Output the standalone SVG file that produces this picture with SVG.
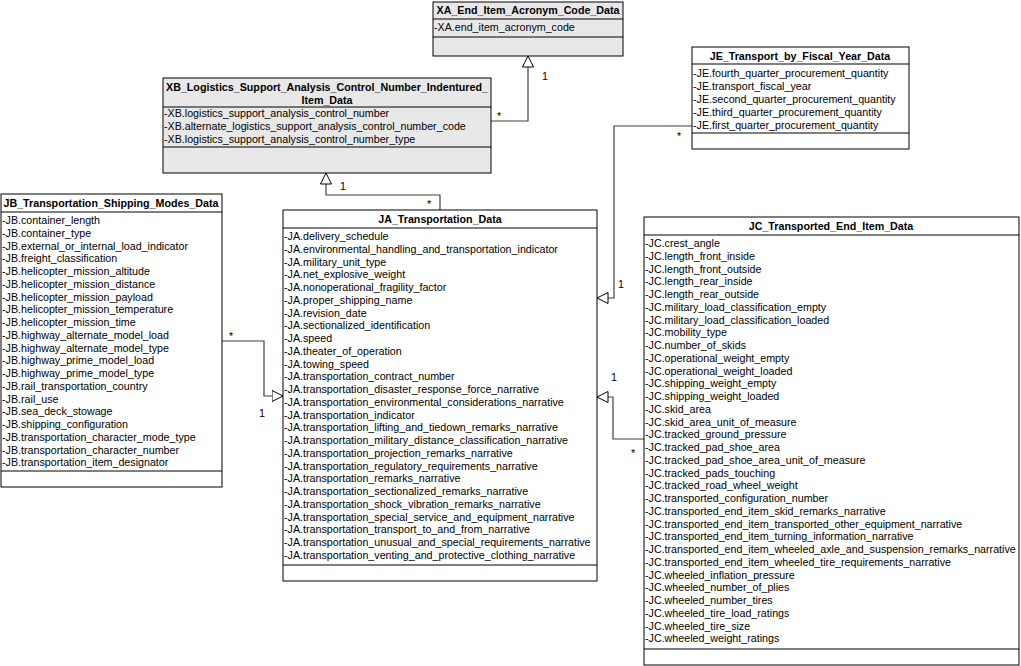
<svg xmlns="http://www.w3.org/2000/svg" width="1021" height="666" viewBox="0 0 1021 666">
<style>
.box{fill:#fff;stroke:#000;stroke-width:1}
.grey{fill:#e8e8e8}
.sep{stroke:#000;stroke-width:1}
.t{font-family:"Liberation Sans",Arial,sans-serif;font-size:10.7px;fill:#000}
.h{font-weight:bold;text-anchor:middle}
.c{fill:none;stroke:#404040;stroke-width:1.2;marker-end:url(#tri)}
.lbl{font-family:"Liberation Sans",Arial,sans-serif;font-size:10.7px;fill:#000}
</style>
<defs>
<marker id="tri" viewBox="0 0 12 12" refX="11.5" refY="6" markerWidth="12" markerHeight="12" markerUnits="userSpaceOnUse" orient="auto">
<path d="M0.5,0.5 L11.5,6 L0.5,11.5 Z" fill="#fff" stroke="#000" stroke-width="1"/>
</marker>
</defs>
<rect width="1021" height="666" fill="#fff"/>

<g id="connectors">
<path class="c" d="M491,121 H528 V56"/>
<path class="c" d="M440,210 V195 H326 V173"/>
<path class="c" d="M222,341 H264 V396 H283"/>
<path class="c" d="M692,126 H614 V298 H597"/>
<path class="c" d="M644,439 H613 V397 H597"/>
<text class="lbl" x="497" y="120">*</text>
<text class="lbl" x="542" y="80">1</text>
<text class="lbl" x="340" y="190">1</text>
<text class="lbl" x="427" y="208">*</text>
<text class="lbl" x="229" y="340">*</text>
<text class="lbl" x="259" y="417">1</text>
<text class="lbl" x="677" y="140">*</text>
<text class="lbl" x="618" y="288">1</text>
<text class="lbl" x="611" y="381">1</text>
<text class="lbl" x="631" y="457">*</text>
</g>

<g id="XA">
<rect class="box grey" x="433" y="2" width="190" height="54"/>
<line class="sep" x1="433" y1="19" x2="623" y2="19"/>
<line class="sep" x1="433" y1="37" x2="623" y2="37"/>
<text class="t h" x="528" y="14">XA_End_Item_Acronym_Code_Data</text>
<text class="t" x="434" y="31">-XA.end_item_acronym_code</text>
</g>

<g id="XB">
<rect class="box grey" x="163" y="78" width="328" height="95"/>
<line class="sep" x1="163" y1="107" x2="491" y2="107"/>
<line class="sep" x1="163" y1="147" x2="491" y2="147"/>
<text class="t h" x="327" y="91">XB_Logistics_Support_Analysis_Control_Number_Indentured_</text>
<text class="t h" x="327" y="104">Item_Data</text>
<text class="t" x="164" y="117">-XB.logistics_support_analysis_control_number</text>
<text class="t" x="164" y="130">-XB.alternate_logistics_support_analysis_control_number_code</text>
<text class="t" x="164" y="143">-XB.logistics_support_analysis_control_number_type</text>
</g>

<g id="JE">
<rect class="box" x="692" y="47" width="217" height="102"/>
<line class="sep" x1="692" y1="64" x2="909" y2="64"/>
<line class="sep" x1="692" y1="133" x2="909" y2="133"/>
<text class="t h" x="800" y="60">JE_Transport_by_Fiscal_Year_Data</text>
<text class="t" x="693" y="77">-JE.fourth_quarter_procurement_quantity</text>
<text class="t" x="693" y="90">-JE.transport_fiscal_year</text>
<text class="t" x="693" y="103">-JE.second_quarter_procurement_quantity</text>
<text class="t" x="693" y="116">-JE.third_quarter_procurement_quantity</text>
<text class="t" x="693" y="129">-JE.first_quarter_procurement_quantity</text>
</g>

<g id="JB">
<rect class="box" x="1" y="194" width="221" height="293"/>
<line class="sep" x1="1" y1="212" x2="222" y2="212"/>
<line class="sep" x1="1" y1="471" x2="222" y2="471"/>
<text class="t h" x="111" y="207">JB_Transportation_Shipping_Modes_Data</text>
<g class="t">
<text x="2" y="224">-JB.container_length</text>
<text x="2" y="236.75">-JB.container_type</text>
<text x="2" y="249.5">-JB.external_or_internal_load_indicator</text>
<text x="2" y="262.25">-JB.freight_classification</text>
<text x="2" y="275">-JB.helicopter_mission_altitude</text>
<text x="2" y="287.75">-JB.helicopter_mission_distance</text>
<text x="2" y="300.5">-JB.helicopter_mission_payload</text>
<text x="2" y="313.25">-JB.helicopter_mission_temperature</text>
<text x="2" y="326">-JB.helicopter_mission_time</text>
<text x="2" y="338.75">-JB.highway_alternate_model_load</text>
<text x="2" y="351.5">-JB.highway_alternate_model_type</text>
<text x="2" y="364.25">-JB.highway_prime_model_load</text>
<text x="2" y="377">-JB.highway_prime_model_type</text>
<text x="2" y="389.75">-JB.rail_transportation_country</text>
<text x="2" y="402.5">-JB.rail_use</text>
<text x="2" y="415.25">-JB.sea_deck_stowage</text>
<text x="2" y="428">-JB.shipping_configuration</text>
<text x="2" y="440.75">-JB.transportation_character_mode_type</text>
<text x="2" y="453.5">-JB.transportation_character_number</text>
<text x="2" y="466.25">-JB.transportation_item_designator</text>
</g>
</g>

<g id="JA">
<rect class="box" x="283" y="210" width="314" height="371"/>
<line class="sep" x1="283" y1="228" x2="597" y2="228"/>
<line class="sep" x1="283" y1="565" x2="597" y2="565"/>
<text class="t h" x="440" y="223">JA_Transportation_Data</text>
<g class="t">
<text x="284" y="240">-JA.delivery_schedule</text>
<text x="284" y="252.75">-JA.environmental_handling_and_transportation_indicator</text>
<text x="284" y="265.5">-JA.military_unit_type</text>
<text x="284" y="278.25">-JA.net_explosive_weight</text>
<text x="284" y="291">-JA.nonoperational_fragility_factor</text>
<text x="284" y="303.75">-JA.proper_shipping_name</text>
<text x="284" y="316.5">-JA.revision_date</text>
<text x="284" y="329.25">-JA.sectionalized_identification</text>
<text x="284" y="342">-JA.speed</text>
<text x="284" y="354.75">-JA.theater_of_operation</text>
<text x="284" y="367.5">-JA.towing_speed</text>
<text x="284" y="380.25">-JA.transportation_contract_number</text>
<text x="284" y="393">-JA.transportation_disaster_response_force_narrative</text>
<text x="284" y="405.75">-JA.transportation_environmental_considerations_narrative</text>
<text x="284" y="418.5">-JA.transportation_indicator</text>
<text x="284" y="431.25">-JA.transportation_lifting_and_tiedown_remarks_narrative</text>
<text x="284" y="444">-JA.transportation_military_distance_classification_narrative</text>
<text x="284" y="456.75">-JA.transportation_projection_remarks_narrative</text>
<text x="284" y="469.5">-JA.transportation_regulatory_requirements_narrative</text>
<text x="284" y="482.25">-JA.transportation_remarks_narrative</text>
<text x="284" y="495">-JA.transportation_sectionalized_remarks_narrative</text>
<text x="284" y="507.75">-JA.transportation_shock_vibration_remarks_narrative</text>
<text x="284" y="520.5">-JA.transportation_special_service_and_equipment_narrative</text>
<text x="284" y="533.25">-JA.transportation_transport_to_and_from_narrative</text>
<text x="284" y="546">-JA.transportation_unusual_and_special_requirements_narrative</text>
<text x="284" y="558.75">-JA.transportation_venting_and_protective_clothing_narrative</text>
</g>
</g>

<g id="JC">
<rect class="box" x="644" y="217" width="375" height="448"/>
<line class="sep" x1="644" y1="235" x2="1019" y2="235"/>
<line class="sep" x1="644" y1="649" x2="1019" y2="649"/>
<text class="t h" x="831" y="230">JC_Transported_End_Item_Data</text>
<g class="t">
<text x="645" y="247">-JC.crest_angle</text>
<text x="645" y="259.75">-JC.length_front_inside</text>
<text x="645" y="272.5">-JC.length_front_outside</text>
<text x="645" y="285.25">-JC.length_rear_inside</text>
<text x="645" y="298">-JC.length_rear_outside</text>
<text x="645" y="310.75">-JC.military_load_classification_empty</text>
<text x="645" y="323.5">-JC.military_load_classification_loaded</text>
<text x="645" y="336.25">-JC.mobility_type</text>
<text x="645" y="349">-JC.number_of_skids</text>
<text x="645" y="361.75">-JC.operational_weight_empty</text>
<text x="645" y="374.5">-JC.operational_weight_loaded</text>
<text x="645" y="387.25">-JC.shipping_weight_empty</text>
<text x="645" y="400">-JC.shipping_weight_loaded</text>
<text x="645" y="412.75">-JC.skid_area</text>
<text x="645" y="425.5">-JC.skid_area_unit_of_measure</text>
<text x="645" y="438.25">-JC.tracked_ground_pressure</text>
<text x="645" y="451">-JC.tracked_pad_shoe_area</text>
<text x="645" y="463.75">-JC.tracked_pad_shoe_area_unit_of_measure</text>
<text x="645" y="476.5">-JC.tracked_pads_touching</text>
<text x="645" y="489.25">-JC.tracked_road_wheel_weight</text>
<text x="645" y="502">-JC.transported_configuration_number</text>
<text x="645" y="514.75">-JC.transported_end_item_skid_remarks_narrative</text>
<text x="645" y="527.5">-JC.transported_end_item_transported_other_equipment_narrative</text>
<text x="645" y="540.25">-JC.transported_end_item_turning_information_narrative</text>
<text x="645" y="553">-JC.transported_end_item_wheeled_axle_and_suspension_remarks_narrative</text>
<text x="645" y="565.75">-JC.transported_end_item_wheeled_tire_requirements_narrative</text>
<text x="645" y="578.5">-JC.wheeled_inflation_pressure</text>
<text x="645" y="591.25">-JC.wheeled_number_of_plies</text>
<text x="645" y="604">-JC.wheeled_number_tires</text>
<text x="645" y="616.75">-JC.wheeled_tire_load_ratings</text>
<text x="645" y="629.5">-JC.wheeled_tire_size</text>
<text x="645" y="642.25">-JC.wheeled_weight_ratings</text>
</g>
</g>
</svg>
